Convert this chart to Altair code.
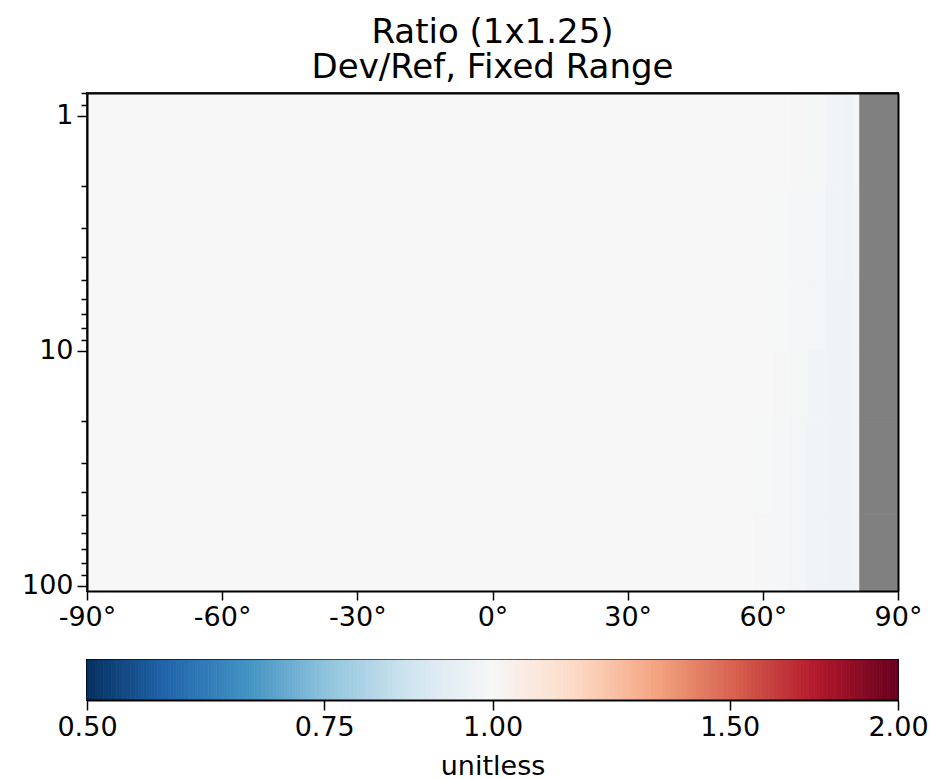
import altair as alt
import numpy as np
import pandas as pd

# ---- data ----
lat_edges = [-90, 58, 62, 66, 70, 74, 78, 80, 81.5, 90]
p_edges = [0.8, 2, 5, 10, 20, 50, 105.5]
# one row per pressure band, top (low pressure) to bottom; None = no data
ratio_p0 = [1.0, 1.0, 1.0, 0.995, 0.990, 0.978, 0.970, 0.985, None]
ratio_p1 = [1.0, 1.0, 0.998, 0.994, 0.987, 0.975, 0.968, 0.983, None]
ratio_p2 = [1.0, 1.0, 0.997, 0.992, 0.984, 0.972, 0.968, 0.980, None]
ratio_p3 = [1.0, 0.999, 0.995, 0.990, 0.980, 0.970, 0.968, 0.978, None]
ratio_p4 = [1.0, 0.997, 0.993, 0.986, 0.976, 0.968, 0.970, 0.978, None]
ratio_p5 = [1.0, 0.996, 0.991, 0.984, 0.974, 0.968, 0.972, 0.980, None]
ratio_rows = [ratio_p0, ratio_p1, ratio_p2, ratio_p3, ratio_p4, ratio_p5]

lat_ticks = [-90, -60, -30, 0, 30, 60, 90]
p_major = [1, 10, 100]
p_minor = [0.8, 0.9, 2, 3, 4, 5, 6, 7, 8, 9, 20, 30, 40, 50, 60, 70, 80, 90]
cbar_ticks = [0.5, 0.75, 1.0, 1.5, 2.0]
cbar_domain = [0.5, 2.0]

# ---- styles ----
RDBU = ["#053061", "#2166ac", "#4393c3", "#92c5de", "#d1e5f0", "#f7f7f7",
        "#fddbc7", "#f4a582", "#d6604d", "#b2182b", "#67001f"]
FONT = "DejaVu Sans"
LBL = 27

rows = []
for i, vals in enumerate(ratio_rows):
    for j, v in enumerate(vals):
        rows.append(dict(lat0=lat_edges[j], lat1=lat_edges[j + 1],
                         p0=p_edges[i], p1=p_edges[i + 1], ratio=v))
df = pd.DataFrame(rows)

# piecewise log colour scale reproducing matplotlib's linear RdBu_r segments
cdom = list(np.geomspace(cbar_domain[0], cbar_domain[1], len(RDBU)))
cscale = alt.Scale(type="log", domain=cdom, range=RDBU, interpolate="rgb", clamp=True)

xscale = alt.Scale(domain=[-90, 90], nice=False, zero=False)
yscale = alt.Scale(type="log", domain=[p_edges[0], p_edges[-1]], reverse=True, nice=False)

axis_common = dict(labelFont=FONT, titleFont=FONT, labelFontSize=LBL, titleFontSize=LBL,
                   titleFontWeight="normal", labelColor="black", titleColor="black",
                   tickColor="black", domainColor="black", domainWidth=2, tickWidth=1.5,
                   grid=False, zindex=1, labelFlush=False, labelOverlap=False)
minor_common = {k: v for k, v in axis_common.items() if k not in ("domainColor", "domainWidth")}

x_axis = alt.Axis(values=lat_ticks, labelExpr="datum.value + '°'", tickSize=9,
                  labelPadding=4, title=None, orient="bottom", **axis_common)
y_axis = alt.Axis(values=p_major, format="d", tickSize=10, labelPadding=4,
                  title="Pressure (hPa)", titlePadding=17, orient="left", **axis_common)
y_minor_axis = alt.Axis(values=p_minor, tickSize=6, labels=False, domain=False,
                        title=None, orient="left", **minor_common)
x_top_axis = alt.Axis(orient="top", labels=False, ticks=False, title=None, **axis_common)
y_right_axis = alt.Axis(orient="right", labels=False, ticks=False, title=None, **axis_common)

base = alt.Chart(df)
cells = base.transform_filter("isValid(datum.ratio)").mark_rect(strokeWidth=0.6).encode(
    x=alt.X("lat0:Q", scale=xscale, axis=x_axis),
    x2="lat1:Q",
    y=alt.Y("p0:Q", scale=yscale, axis=y_axis),
    y2="p1:Q",
    color=alt.Color("ratio:Q", scale=cscale, legend=None),
    stroke=alt.Stroke("ratio:Q", scale=cscale, legend=None),
)
missing = base.transform_filter("!isValid(datum.ratio)").mark_rect(
    fill="#808080", stroke="#808080", strokeWidth=0.8).encode(
    x=alt.X("lat0:Q", scale=xscale, axis=x_top_axis),
    x2="lat1:Q",
    y=alt.Y("p0:Q", scale=yscale, axis=y_right_axis),
    y2="p1:Q",
)
minor = base.mark_point(opacity=0).encode(
    y=alt.Y("p0:Q", scale=yscale, axis=y_minor_axis),
)

heat = alt.layer(cells, missing, minor).resolve_axis(x="independent", y="independent").properties(
    width=811, height=498,
    title=alt.TitleParams(["Ratio (1x1.25)", "Dev/Ref, Fixed Range"], font=FONT, fontSize=34,
                          fontWeight="normal", color="black", anchor="middle", frame="group",
                          offset=5, lineHeight=35),
)

# colour bar built from the colour scale's domain
edges = np.geomspace(cbar_domain[0], cbar_domain[1], 301)
cb = pd.DataFrame(dict(v0=edges[:-1], v1=edges[1:], v=np.sqrt(edges[:-1] * edges[1:])))
cbar = alt.Chart(cb).mark_rect(strokeWidth=0.8).encode(
    x=alt.X("v0:Q", scale=alt.Scale(type="log", domain=cbar_domain, nice=False),
            axis=alt.Axis(values=cbar_ticks, format=".2f", tickSize=10, labelPadding=4,
                          title="unitless", titlePadding=13, **axis_common)),
    x2="v1:Q",
    color=alt.Color("v:Q", scale=cscale, legend=None),
    stroke=alt.Stroke("v:Q", scale=cscale, legend=None),
).properties(width=811, height=40)

chart = alt.vconcat(heat, cbar, spacing=69, bounds="flush").properties(
    padding={"left": -33, "top": 7, "right": 4, "bottom": 0}
).configure_view(stroke="black", strokeWidth=2, fill="white")

chart.save("out.html", embed_options={"renderer": "svg", "actions": False})
